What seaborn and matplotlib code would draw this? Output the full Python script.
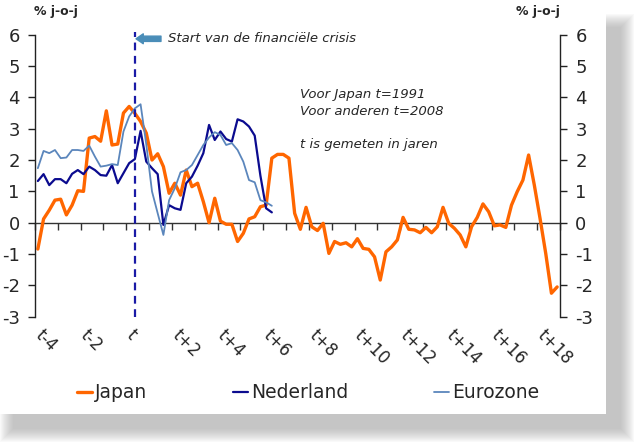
import numpy as np
import pandas as pd
import matplotlib
matplotlib.use("Agg")
import matplotlib.pyplot as plt
from matplotlib.patches import Rectangle
import seaborn as sns

# ---------------- data (quarterly, t measured in years) ----------------
japan = [-0.84, 0.12, 0.40, 0.72, 0.75, 0.25, 0.56, 1.02, 1.00, 2.70, 2.75, 2.60,
         3.57, 2.48, 2.51, 3.50, 3.71, 3.49, 3.23, 2.86, 2.00, 2.20, 1.79, 0.94,
         1.26, 0.88, 1.68, 1.15, 1.26, 0.67, 0.00, 0.78, 0.05, -0.05, -0.05, -0.60,
         -0.34, 0.12, 0.19, 0.51, 0.56, 2.06, 2.18, 2.18, 2.06, 0.30, -0.21, 0.49,
         -0.13, -0.25, -0.02, -0.98, -0.60, -0.69, -0.64, -0.77, -0.51, -0.82, -0.85, -1.09,
         -1.83, -0.93, -0.77, -0.55, 0.17, -0.21, -0.23, -0.32, -0.15, -0.32, -0.13, 0.49,
         -0.02, -0.18, -0.39, -0.77, -0.13, 0.17, 0.60, 0.35, -0.10, -0.07, -0.15, 0.56,
         0.99, 1.36, 2.16, 1.20, 0.14, -0.98, -2.25, -2.05]
nederland = [1.33, 1.55, 1.20, 1.39, 1.39, 1.26, 1.56, 1.68, 1.55, 1.79, 1.68, 1.52,
             1.50, 1.84, 1.26, 1.58, 1.90, 2.03, 2.93, 1.95, 1.74, 1.55, -0.07, 0.56,
             0.46, 0.41, 1.26, 1.47, 1.82, 2.22, 3.12, 2.64, 2.91, 2.67, 2.59, 3.30,
             3.23, 3.07, 2.78, 1.50, 0.46, 0.33]
eurozone = [1.74, 2.29, 2.22, 2.32, 2.06, 2.08, 2.32, 2.32, 2.29, 2.46, 2.11, 1.79,
            1.82, 1.87, 1.84, 2.91, 3.39, 3.65, 3.78, 2.50, 1.00, 0.30, -0.39, 0.72,
            1.10, 1.61, 1.68, 1.84, 2.16, 2.48, 2.72, 2.89, 2.80, 2.48, 2.54, 2.32,
            1.95, 1.36, 1.29, 0.72, 0.65, 0.54]
label_years = list(range(-4, 19, 2))
tick_labels = ["t" if y == 0 else (f"t+{y}" if y > 0 else f"t{y}") for y in label_years]
crisis_start = 0.25
notes = ["Voor Japan t=1991", "Voor anderen t=2008", "", "t is gemeten in jaren"]

t_japan = [-4 + i / 4 for i in range(len(japan))]
t_eu = [-4 + i / 4 for i in range(len(nederland))]
df_j = pd.DataFrame({"t": t_japan, "v": japan})
df_n = pd.DataFrame({"t": t_eu, "v": nederland})
df_e = pd.DataFrame({"t": t_eu, "v": eurozone})

# ---------------- figure ----------------
sns.set_theme(style="white")
plt.rcParams["font.family"] = ["DejaVu Sans"]
plt.rcParams["axes.unicode_minus"] = False
W, H = 640, 447
fig = plt.figure(figsize=(W / 100, H / 100), dpi=100)
fig.patch.set_facecolor("white")

def fx(px):
    return px / W

def fy(py):
    return 1 - py / H

# drop shadow + white panel
px0, py0, px1, py1 = 0, 0, 606, 414
for k in range(14, 0, -1):
    fig.patches.append(Rectangle((fx(px0 + 14 - k), fy(py1 + 14 + k)),
                                 fx(px1 - px0 + 2 * k), (py1 - py0 + 2 * k - 14) / H,
                                 transform=fig.transFigure, facecolor="#9a9a9a",
                                 edgecolor="none", alpha=0.05, zorder=-10))
fig.patches.append(Rectangle((fx(px0), fy(py1)), fx(px1 - px0), (py1 - py0) / H,
                             transform=fig.transFigure, facecolor="white",
                             edgecolor="none", zorder=-5))

ax = fig.add_axes([fx(35), fy(316.7), fx(560 - 35), (316.7 - 34.7) / H])
ax.set_facecolor("none")

sns.lineplot(data=df_j, x="t", y="v", ax=ax, color="#FF6600", linewidth=2.4, label="Japan")
sns.lineplot(data=df_n, x="t", y="v", ax=ax, color="#0B0B8F", linewidth=1.6, label="Nederland")
sns.lineplot(data=df_e, x="t", y="v", ax=ax, color="#5B86BC", linewidth=1.3, label="Eurozone")

ax.axvline(crisis_start, color="#1A1AA6", linestyle=(0, (3.5, 2.5)), linewidth=1.6, zorder=5,
           ymin=0, ymax=1.01, clip_on=False)

ax.set_xlim(-4.125, 18.875)
ax.set_ylim(-3, 6)
ax.set_xlabel("")
ax.set_ylabel("")

# y axes
for s in ["top", "bottom"]:
    ax.spines[s].set_visible(False)
for s in ["left", "right"]:
    ax.spines[s].set_visible(True)
    ax.spines[s].set_color("#222222")
    ax.spines[s].set_linewidth(1.0)
ax.set_yticks(range(-3, 7))
ax.tick_params(axis="y", which="major", left=True, right=True, labelleft=True, labelright=True,
               direction="out", length=5, width=1, color="#222222", labelsize=13, pad=6)

# category labels at bottom (no ticks)
ax.set_xticks(label_years)
ax.set_xticklabels(tick_labels, rotation=-45, ha="left", va="center", rotation_mode="anchor",
                   fontsize=12)
ax.tick_params(axis="x", bottom=True, length=0, pad=11)

# zero line with yearly ticks
sec = ax.secondary_xaxis(1 / 3)
sec.set_xticks([-4.125 + k for k in range(24)])
sec.set_xticklabels([])
sec.spines["bottom"].set_color("#333333")
sec.spines["bottom"].set_linewidth(1.0)
sec.tick_params(axis="x", direction="out", length=5, width=1, color="#333333")

# texts
fig.text(fx(34), fy(12), "% j-o-j", fontsize=9, fontweight="bold", ha="left", va="center")
fig.text(fx(560), fy(12), "% j-o-j", fontsize=9, fontweight="bold", ha="right", va="center")

ax.annotate("Start van de financiële crisis", xy=(0.3, 5.87), xytext=(1.72, 5.87),
            ha="left", va="center", fontsize=9.5, style="italic",
            arrowprops=dict(arrowstyle="simple,head_length=0.55,head_width=0.75,tail_width=0.4",
                            color="#4A8DB8", shrinkA=3, shrinkB=0))
yy = [4.08, 3.54, 3.0, 2.48]
for txt, y in zip(notes, yy):
    if txt:
        ax.text(7.5, y, txt, fontsize=9.5, style="italic", ha="left", va="center")

# legend
ax.get_legend().remove()
handles, labels = ax.get_legend_handles_labels()
leg = fig.legend(handles, labels, loc="center", bbox_to_anchor=(fx(308), fy(393)), ncol=3,
                 frameon=False, fontsize=13.5, handlelength=0.8, handletextpad=0.15,
                 columnspacing=4.6)

fig.savefig("out.png", dpi=100)
